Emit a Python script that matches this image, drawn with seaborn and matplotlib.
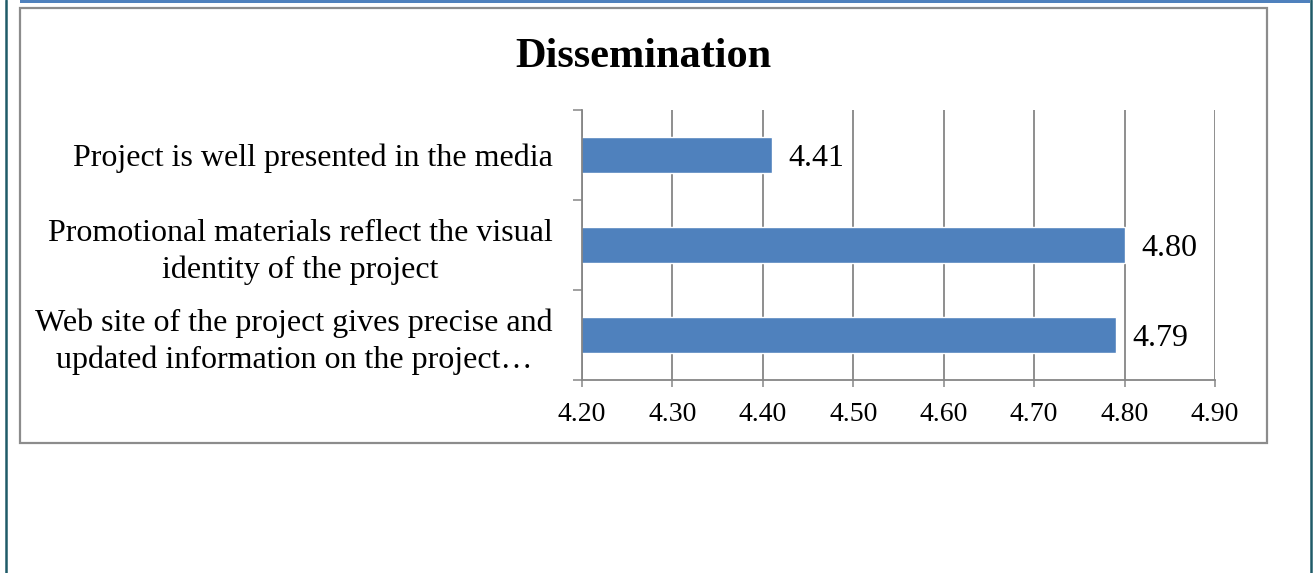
import matplotlib
matplotlib.use("Agg")
import matplotlib.pyplot as plt
import seaborn as sns
import pandas as pd
from matplotlib.patches import Rectangle
from matplotlib.lines import Line2D

categories = [
    "Project is well presented in the media",
    "Promotional materials reflect the visual\nidentity of the project",
    "Web site of the project gives precise and\nupdated information on the project\u2026",
]
values = [4.41, 4.80, 4.79]
xticks = [4.20, 4.30, 4.40, 4.50, 4.60, 4.70, 4.80, 4.90]
title = "Dissemination"

sns.set_style("white")
plt.rcParams["font.family"] = ["Liberation Serif", "DejaVu Serif"]
plt.rcParams["text.color"] = "black"
plt.rcParams["xtick.labelcolor"] = "black"
plt.rcParams["ytick.labelcolor"] = "black"

W, H = 1314, 573
fig = plt.figure(figsize=(W / 100, H / 100), dpi=100)
fig.patch.set_facecolor("white")

def fx(x): return x / W
def fy(y): return 1 - y / H

# decorative frames
fig.add_artist(Line2D([fx(6), fx(6)], [0, 1], color="#1F5B68", lw=1.8))
fig.add_artist(Line2D([fx(1310.5), fx(1310.5)], [0, 1], color="#1F5B68", lw=1.8))
fig.add_artist(Rectangle((fx(20), fy(3)), fx(1310) - fx(20), fy(0) - fy(3),
                         facecolor="#4F81BD", edgecolor="none"))
fig.add_artist(Rectangle((fx(20), fy(443)), fx(1267) - fx(20), fy(8) - fy(443),
                         facecolor="none", edgecolor="#8C8C8C", lw=1.6))

ax = fig.add_axes([fx(582), fy(380), fx(1215) - fx(582), fy(110) - fy(380)])
df = pd.DataFrame({"cat": categories, "val": values})
sns.barplot(data=df, x="val", y="cat", orient="h", width=0.4, color="#4F81BD",
            saturation=1, ax=ax)
ax.set_xlim(4.2, 4.9)
ax.set_ylim(2.5, -0.5)
ax.set_xticks(xticks)
ax.set_xticklabels([f"{t:.2f}" for t in xticks])
ax.set_yticks([-0.5, 0.5, 1.5, 2.5])
ax.set_yticklabels([])
ax.set_yticks(range(len(categories)), minor=True)
ax.set_yticklabels(categories, minor=True, ha="right", multialignment="center",
                   linespacing=1.32)
ax.tick_params(axis="y", which="minor", length=0, pad=21, labelsize=23,
               labelcolor="black")
ax.tick_params(axis="y", which="major", length=6.5, width=1.1, color="#868686",
               direction="out", left=True)
ax.tick_params(axis="x", length=5, width=1.1, color="#868686", direction="out",
               bottom=True, labelsize=20, pad=11, labelcolor="black")
ax.set_xlabel("")
ax.set_ylabel("")
ax.set_axisbelow(True)
ax.grid(axis="x", color="#868686", lw=1.3)
ax.grid(axis="y", visible=False)
for s in ["top", "right"]:
    ax.spines[s].set_visible(False)
for s in ["left", "bottom"]:
    ax.spines[s].set_color("#868686")
    ax.spines[s].set_linewidth(1.3)

for cont in ax.containers:
    labels = ax.bar_label(cont, fmt="%.2f", padding=12, fontsize=23, color="black")
    for t in labels:
        t.set_va("center_baseline")

fig.text(fx(643), fy(57), title, ha="center", va="center", fontsize=30.5,
         fontweight="bold", color="black")

fig.savefig("out.png", dpi=100)
